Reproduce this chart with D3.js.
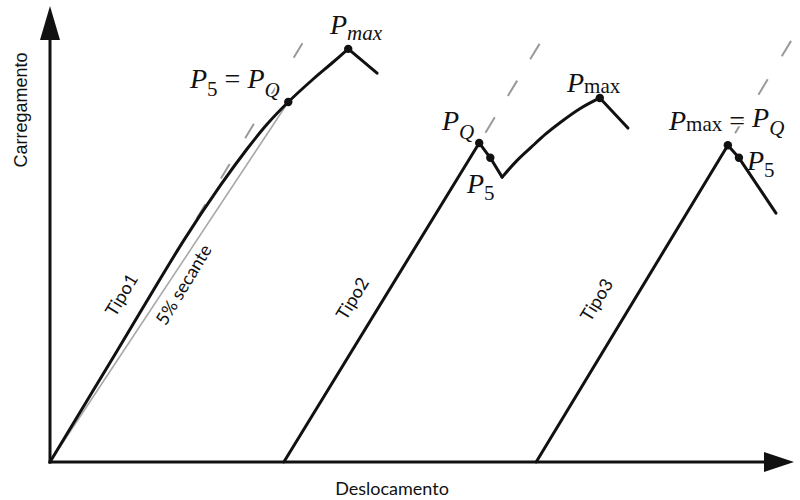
<!DOCTYPE html>
<html>
<head>
<meta charset="utf-8">
<script src="https://cdn.jsdelivr.net/npm/d3@7"></script>
<style>
  html, body { margin: 0; padding: 0; background: #fff; }
  svg { display: block; }
  .sym { font-family: "Liberation Serif", "Times New Roman", serif; fill: #111; paint-order: stroke; stroke: #fff; stroke-width: 4px; stroke-linejoin: round; }
  .lab { font-family: Lato, "Open Sans", sans-serif; fill: #111; }
</style>
</head>
<body>
<svg id="chart" width="800" height="500"></svg>
<script>
// ---- data (displacement, load) in arbitrary units ----
const tipo1Curve = [[0,0],[0.9,2.45],[1.81,4.93],[2.30,6.14],[2.66,6.95],[2.93,7.50],[3.22,8.00],[3.55,8.50],[3.80,8.85],[4.03,9.18]];
const tipo1Drop  = [[4.03,9.18],[4.42,8.64]];
const tipo2Rise  = [[3.16,0],[5.80,7.09]];
const tipo2Drop  = [[5.80,7.09],[5.95,6.76],[6.11,6.33]];
const tipo2Curve = [[6.11,6.33],[6.30,6.68],[6.50,6.99],[6.70,7.29],[6.90,7.55],[7.16,7.85],[7.43,8.09]];
const tipo2End   = [[7.43,8.09],[7.81,7.42]];
const tipo3Rise  = [[6.57,0],[9.16,7.04]];
const tipo3Drop  = [[9.16,7.04],[9.31,6.76],[9.81,5.53]];
const secant     = [[0,0],[3.22,8.00]];
const tangents   = [
  {pts:[[0,0],[3.42,9.33]], start:2, dash:[17,30]},
  {pts:[[5.80,7.09],[6.63,9.33]], start:12, dash:[18,25]},
  {pts:[[9.16,7.04],[10.03,9.40]], start:14, dash:[18,27]}
];
const keyPoints  = [[3.22,8.00],[4.03,9.18],[5.80,7.09],[5.95,6.76],[7.43,8.09],[9.16,7.04],[9.31,6.76]];
const typeLabels = [
  {text:"Tipo1", x:1.04, y:3.64},
  {text:"Tipo2", x:4.16, y:3.56},
  {text:"Tipo3", x:7.46, y:3.53}
];
const secantLabel = {text:"5% secante", x:1.88, y:3.87};
const xTitle = "Deslocamento";
const yTitle = "Carregamento";

const svg = d3.select("#chart");
const x = d3.scaleLinear().domain([0,10]).range([50,790]);
const y = d3.scaleLinear().domain([0,10]).range([462,12]);
const line = d3.line().x(d => x(d[0])).y(d => y(d[1]));
const smooth = d3.line().x(d => x(d[0])).y(d => y(d[1])).curve(d3.curveCatmullRom.alpha(0.5));

// secant (thin gray)
svg.append("path").attr("d", line(secant)).attr("fill","none")
  .attr("stroke","#a8a8a8").attr("stroke-width",1.6);

// tangent dashes
tangents.forEach(t => {
  svg.append("path").attr("d", line(t.pts)).attr("fill","none")
    .attr("stroke","#9a9a9a").attr("stroke-width",2)
    .attr("stroke-dasharray", t.dash.join(" "))
    .attr("stroke-dashoffset", -t.start);
});

// symbol labels (drawn before curves so their halo only hides dashes)
function sym(px, py, parts) {
  const t = svg.append("text").attr("class","sym").attr("x",px).attr("y",py).attr("font-size",28);
  let shift = 0;
  parts.forEach(p => {
    const s = t.append("tspan").text(p.t);
    if (p.italic) s.attr("font-style","italic");
    const target = p.off || 0;
    s.attr("dy", target - shift); shift = target;
    if (p.small) s.attr("font-size",21);
  });
}
sym(330, 34, [{t:"P",italic:true},{t:"max",italic:true,small:true,off:6}]);
sym(190, 88, [{t:"P",italic:true},{t:"5",small:true,off:8},{t:" = "},{t:"P",italic:true},{t:"Q",italic:true,small:true,off:9}]);
sym(442, 130, [{t:"P",italic:true},{t:"Q",italic:true,small:true,off:9}]);
sym(467, 193, [{t:"P",italic:true},{t:"5",small:true,off:7}]);
sym(567, 92, [{t:"P",italic:true},{t:"max",small:true,off:1}]);
sym(669, 130, [{t:"P",italic:true},{t:"max",small:true,off:1},{t:" = "},{t:"P",italic:true,off:-3},{t:"Q",italic:true,small:true,off:5}]);
sym(747, 170, [{t:"P",italic:true},{t:"5",small:true,off:7}]);

// curves
const black = sel => sel.attr("fill","none").attr("stroke","#111").attr("stroke-width",3)
  .attr("stroke-linejoin","round").attr("stroke-linecap","round");
svg.append("path").attr("d", smooth(tipo1Curve)).call(black);
svg.append("path").attr("d", line(tipo1Drop)).call(black);
svg.append("path").attr("d", line(tipo2Rise)).call(black);
svg.append("path").attr("d", line(tipo2Drop)).call(black);
svg.append("path").attr("d", smooth(tipo2Curve)).call(black);
svg.append("path").attr("d", line(tipo2End)).call(black);
svg.append("path").attr("d", line(tipo3Rise)).call(black);
svg.append("path").attr("d", line(tipo3Drop)).call(black);

svg.selectAll("circle.kp").data(keyPoints).enter().append("circle")
  .attr("class","kp").attr("cx", d => x(d[0])).attr("cy", d => y(d[1])).attr("r",4.2).attr("fill","#111");

// axes with arrows
const x0 = x(0), y0 = y(0);
svg.append("line").attr("x1",x0).attr("y1",y0+1.5).attr("x2",x0).attr("y2",30).attr("stroke","#111").attr("stroke-width",3);
svg.append("line").attr("x1",x0-1.5).attr("y1",y0).attr("x2",770).attr("y2",y0).attr("stroke","#111").attr("stroke-width",3);
svg.append("path").attr("d",`M${x0},6 L${x0-10},40 L${x0+10},40 Z`).attr("fill","#111");
svg.append("path").attr("d",`M794,${y0} L764,${y0-10} L764,${y0+10} Z`).attr("fill","#111");

// axis titles
svg.append("text").attr("class","lab").attr("x",392).attr("y",495).attr("text-anchor","middle")
  .attr("font-size",18).text(xTitle);
svg.append("text").attr("transform","translate(27,110) rotate(-90)")
  .attr("text-anchor","middle").style("font-family","'Liberation Sans', Arial, sans-serif")
  .attr("fill","#111").attr("font-size",18).text(yTitle);

// type labels along the lines
const ang = -58.8;
typeLabels.forEach(l => {
  svg.append("text").attr("class","lab").attr("font-size",18).attr("text-anchor","middle")
    .attr("transform",`translate(${x(l.x)},${y(l.y)}) rotate(${ang})`).text(l.text);
});
svg.append("text").attr("class","lab").attr("font-size",18).attr("text-anchor","middle")
  .attr("transform",`translate(${x(secantLabel.x)},${y(secantLabel.y)}) rotate(${ang})`).text(secantLabel.text);
</script>
</body>
</html>
